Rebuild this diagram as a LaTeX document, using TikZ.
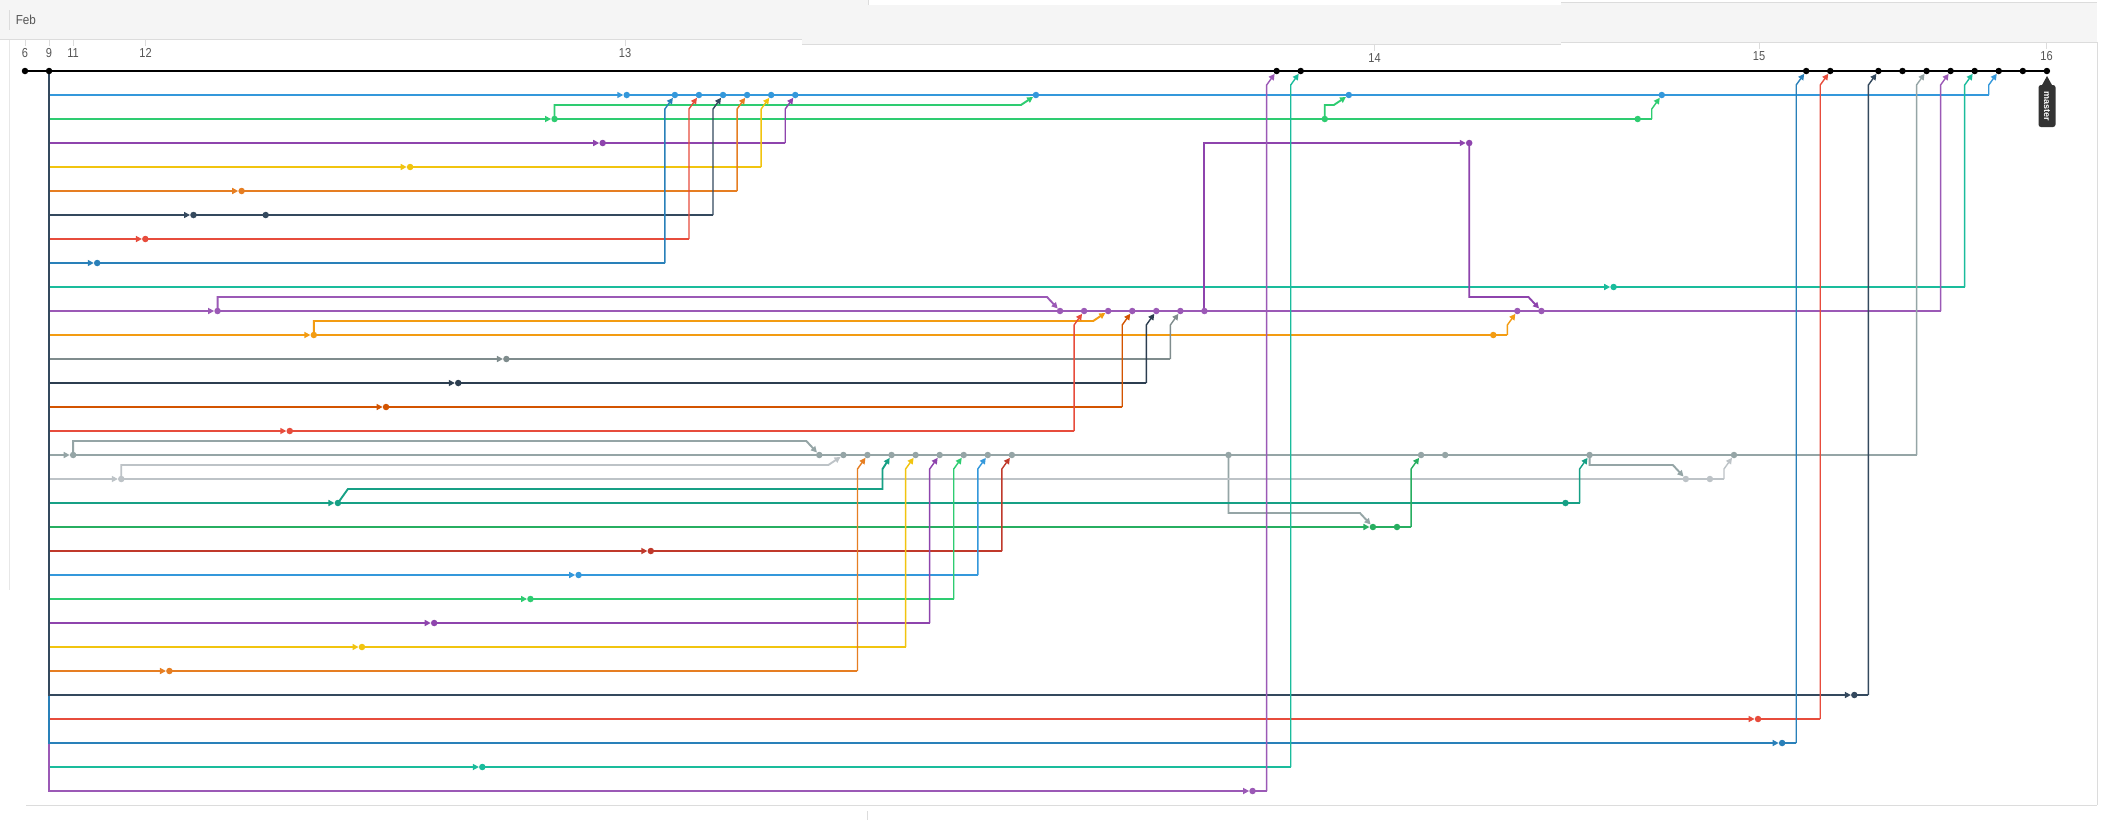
\documentclass[tikz,border=0pt]{standalone}
\usepackage{fontspec}
\setmainfont{Liberation Sans}
\usetikzlibrary{arrows.meta,calc}
\pgfdeclarelayer{frame}
\pgfdeclarelayer{bg}
\pgfsetlayers{frame,bg,main}
\definecolor{cBlue}{HTML}{3498DB}
\definecolor{cEmer}{HTML}{2ECC71}
\definecolor{cWis}{HTML}{8E44AD}
\definecolor{cSun}{HTML}{F1C40F}
\definecolor{cCarrot}{HTML}{E67E22}
\definecolor{cWet}{HTML}{34495E}
\definecolor{cAliz}{HTML}{E74C3C}
\definecolor{cBel}{HTML}{2980B9}
\definecolor{cTurq}{HTML}{1ABC9C}
\definecolor{cAmy}{HTML}{9B59B6}
\definecolor{cOrange}{HTML}{F39C12}
\definecolor{cAsb}{HTML}{7F8C8D}
\definecolor{cMid}{HTML}{2C3E50}
\definecolor{cPump}{HTML}{D35400}
\definecolor{cCon}{HTML}{95A5A6}
\definecolor{cSil}{HTML}{BDC3C7}
\definecolor{cGreen}{HTML}{16A085}
\definecolor{cNeph}{HTML}{27AE60}
\definecolor{cPom}{HTML}{C0392B}
\definecolor{hdr}{HTML}{F5F5F5}
\definecolor{rule}{HTML}{DCDCDC}
\definecolor{lbl}{HTML}{555555}
\definecolor{mlab}{HTML}{333333}
\tikzset{
  dot/.style={circle,inner sep=0pt,minimum size=6.5pt,draw=none},
  rowline/.style={line width=1.9pt},
  vline/.style={line width=1.4pt},
  tip/.style={-{Triangle[length=6pt,width=6pt]}},
  mline/.style={line width=2.3pt,black},
  datelbl/.style={text=lbl,font=\fontsize{13}{13}\selectfont,inner sep=0pt},
  tick/.style={draw=rule,line width=0.8pt},
}
\newcommand\commits[3]{\foreach \co in {#3}{\node[dot,fill=#2] (n#1c\co) at ({25+24.07*\co},{71+24*#1}) {};}}
\newcommand\mrg[3]{%
  \coordinate (mt) at ($(#3)+(-10,14)$);
  \coordinate (mb) at (#2.center -| mt);
  \draw[rowline,#1] (#2.center) -- (mb);
  \draw[vline,#1,tip] (mb) -- (mt) -- (#3);}
\newcommand\sideup[3]{\draw[rowline,#1,tip] (#2.center) |- ($(#3)+(-15,10)$) -- (#3);}
\newcommand\sidedn[3]{\draw[rowline,#1,tip] (#2.center) |- ($(#3)+(-13,-14)$) -- (#3);}
\begin{document}
\begin{tikzpicture}[x=1pt,y=-1pt]
\useasboundingbox (0,0) rectangle (2115,820);
% commits
\commits{0}{black}{0,1,52,53,74,75,77,78,79,80,81,82,83,84}
\commits{1}{cBlue}{25,27,28,29,30,31,32,42,55,68}
\commits{2}{cEmer}{22,54,67}
\commits{3}{cWis}{24,60}
\commits{4}{cSun}{16}
\commits{5}{cCarrot}{9}
\commits{6}{cWet}{7,10}
\commits{7}{cAliz}{5}
\commits{8}{cBel}{3}
\commits{9}{cTurq}{66}
\commits{10}{cAmy}{8,43,44,45,46,47,48,49,62,63}
\commits{11}{cOrange}{12,61}
\commits{12}{cAsb}{20}
\commits{13}{cMid}{18}
\commits{14}{cPump}{15}
\commits{15}{cAliz}{11}
\commits{16}{cCon}{2,33,34,35,36,37,38,39,40,41,50,58,59,65,71}
\commits{17}{cSil}{4,69,70}
\commits{18}{cGreen}{13,64}
\commits{19}{cNeph}{56,57}
\commits{20}{cPom}{26}
\commits{21}{cBlue}{23}
\commits{22}{cEmer}{21}
\commits{23}{cWis}{17}
\commits{24}{cSun}{14}
\commits{25}{cCarrot}{6}
\commits{26}{cWet}{76}
\commits{27}{cAliz}{72}
\commits{28}{cBel}{73}
\commits{29}{cTurq}{19}
\commits{30}{cAmy}{51}
% master label
\node[fill=mlab,text=white,rounded corners=2.5pt,rotate=-90,minimum width=42pt,minimum height=17pt,inner sep=0pt,font=\bfseries\fontsize{9}{9}\selectfont] (mlabel) at (2047,106) {master};
\fill[mlab] (2047,76) -- (2041.5,86) -- (2052.5,86) -- cycle;
% frame and header
\begin{pgfonlayer}{frame}
\fill[white] (0,0) rectangle (2115,820);
\fill[hdr] (0,0) rectangle (868,39);
\fill[hdr] (802,5) rectangle (1561,44);
\fill[hdr] (1561,2) rectangle (2097,42);
\draw[rule,line width=1pt] (0,39) -- (802,39);
\draw[rule,line width=1pt] (802,44) -- (1561,44);
\draw[rule,line width=1pt] (1561,42) -- (2097,42);
\draw[rule,line width=1pt] (1561,2) -- (2097,2);
\draw[rule,line width=0.8pt] (868,0) -- (868,5);
\draw[rule,line width=0.8pt] (9.4,10) -- (9.4,30);
\draw[rule!70,line width=0.8pt] (9.4,40) -- (9.4,590);
\draw[rule,line width=1pt] (26,805) -- (2097,805);
\draw[rule,line width=1pt] (2097,42) -- (2097,805);
\draw[rule,line width=0.8pt] (867,811) -- (867,820);
\node[datelbl,anchor=west] (feb) at (15.6,19.5) {\scalebox{0.9}[1]{Feb}};
\foreach \nm/\xx/\hb in {6/25/39,9/49/39,11/73/39,12/145.5/39,13/625/39,14/1374.5/44,15/1759/42,16/2046.5/42}{
  \draw[tick] (\xx,\hb+1) -- (\xx,\hb+7);
  \node[datelbl] (t\nm) at (\xx,\hb+14) {\scalebox{0.85}[1]{\nm}};
}
\end{pgfonlayer}
% connectors
\begin{pgfonlayer}{bg}
\draw[mline] (n0c0.center) -- (n0c84.center);
\foreach \ro/\co/\kk in {1/25/cBlue,2/22/cEmer,3/24/cWis,4/16/cSun,5/9/cCarrot,6/7/cWet,7/5/cAliz,8/3/cBel,9/66/cTurq,10/8/cAmy,11/12/cOrange,12/20/cAsb,13/18/cMid,14/15/cPump,15/11/cAliz,16/2/cCon,17/4/cSil,18/13/cGreen,19/56/cNeph,20/26/cPom,21/23/cBlue,22/21/cEmer,23/17/cWis,24/14/cSun,25/6/cCarrot,27/72/cAliz,29/19/cTurq,30/51/cAmy,28/73/cBel,26/76/cWet}{
  \draw[rowline,\kk,tip] (n0c1.center) |- (n\ro c\co);
}
% merges
\mrg{cBlue}{n1c25}{n0c82}
\mrg{cEmer}{n2c22}{n1c68}
\sideup{cEmer}{n2c22}{n1c42}
\sideup{cEmer}{n2c54}{n1c55}
\mrg{cWis}{n3c24}{n1c32}
\draw[rowline,cWis,tip] (n10c49.center) |- (n3c60);
\sidedn{cWis}{n3c60}{n10c63}
\mrg{cSun}{n4c16}{n1c31}
\mrg{cCarrot}{n5c9}{n1c30}
\mrg{cWet}{n6c7}{n1c29}
\mrg{cAliz}{n7c5}{n1c28}
\mrg{cBel}{n8c3}{n1c27}
\mrg{cTurq}{n9c66}{n0c81}
\mrg{cAmy}{n10c8}{n0c80}
\sidedn{cAmy}{n10c8}{n10c43}
\mrg{cOrange}{n11c12}{n10c62}
\sideup{cOrange}{n11c12}{n10c45}
\mrg{cAsb}{n12c20}{n10c48}
\mrg{cMid}{n13c18}{n10c47}
\mrg{cPump}{n14c15}{n10c46}
\mrg{cAliz}{n15c11}{n10c44}
\mrg{cCon}{n16c2}{n0c79}
\sidedn{cCon}{n16c2}{n16c33}
\sidedn{cCon}{n16c50}{n19c56}
\sidedn{cCon}{n16c65}{n17c69}
\mrg{cSil}{n17c4}{n16c71}
\sideup{cSil}{n17c4}{n16c34}
\mrg{cGreen}{n18c13}{n16c65}
\draw[rowline,cGreen,tip] (n18c13.center) -- ++(10,-14) -| ($(n16c36)+(-9,14)$) -- (n16c36);
\mrg{cNeph}{n19c56}{n16c58}
\mrg{cPom}{n20c26}{n16c41}
\mrg{cBlue}{n21c23}{n16c40}
\mrg{cEmer}{n22c21}{n16c39}
\mrg{cWis}{n23c17}{n16c38}
\mrg{cSun}{n24c14}{n16c37}
\mrg{cCarrot}{n25c6}{n16c35}
\mrg{cWet}{n26c76}{n0c77}
\mrg{cAliz}{n27c72}{n0c75}
\mrg{cBel}{n28c73}{n0c74}
\mrg{cTurq}{n29c19}{n0c53}
\mrg{cAmy}{n30c51}{n0c52}
\end{pgfonlayer}
\end{tikzpicture}
\end{document}
